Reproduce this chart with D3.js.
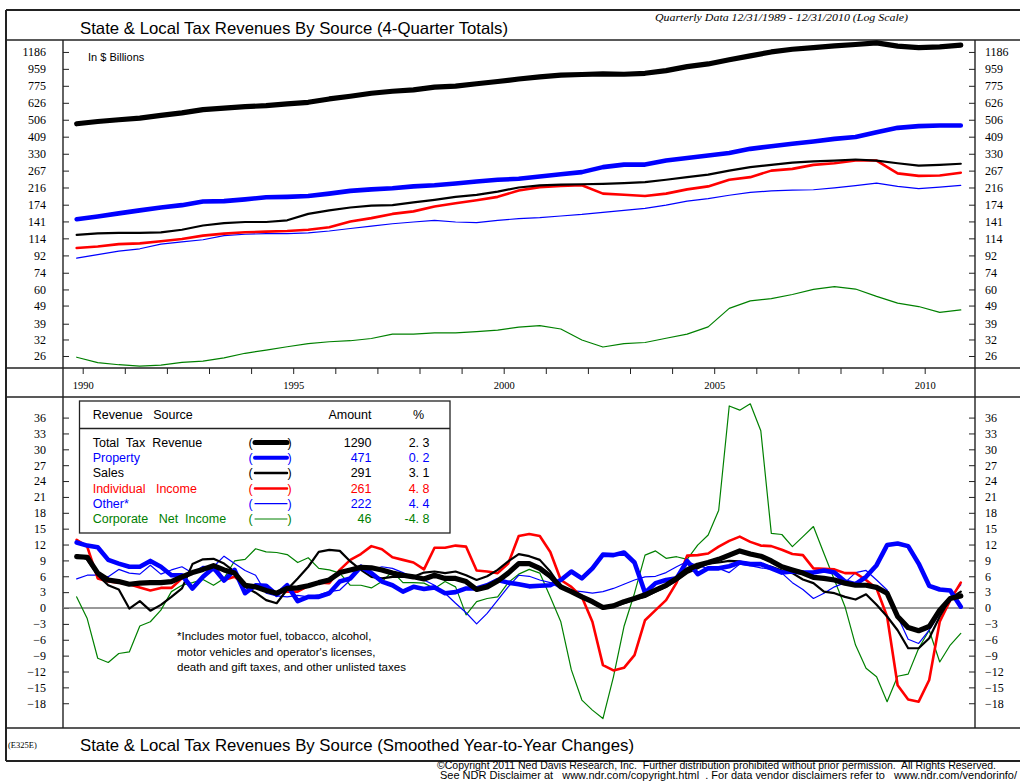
<!DOCTYPE html>
<html>
<head>
<meta charset="utf-8">
<script src="https://cdn.jsdelivr.net/npm/d3@7"></script>
<style>
  body { margin: 0; background: #fff; }
  svg { display: block; }
  text { white-space: pre; }
</style>
</head>
<body>
<div id="chart"></div>
<script>
// ---------- data ----------
// first point is 12/31/1989, plotted a little before the 1990 tick
const firstDate = 1989.857;
const halfYears = d3.range(43).map(k => firstDate + k / 2);
const quarters = d3.range(85).map(i => firstDate + i / 4);

const yearTicks = d3.range(1990, 2011);
const yearLabels = [1990, 1995, 2000, 2005, 2010];
const logTicks = [26, 32, 39, 49, 60, 74, 92, 114, 141, 174, 216, 267, 330, 409, 506, 626, 775, 959, 1186];
const pctTicks = d3.range(-18, 37, 3);

// 4-quarter totals, $ billions (semi-annual readings)
const levelTotal = [481, 495, 506, 516, 534, 552, 575, 586, 596, 604, 617, 630, 657, 680, 706, 724, 737, 762, 772, 795, 818, 844, 867, 886, 893, 900, 896, 907, 938, 986, 1020, 1075, 1128, 1186, 1227, 1253, 1280, 1302, 1330, 1276, 1253, 1264, 1291];
const levelProperty = [145, 150, 156, 162, 168, 173, 181, 182, 186, 191, 192, 194, 200, 207, 211, 214, 219, 222, 227, 233, 238, 241, 248, 255, 262, 279, 288, 288, 303, 313, 323, 333, 351, 363, 374, 385, 398, 407, 433, 457, 467, 471, 471];
const levelSales = [119, 121.5, 122, 122, 123, 127, 134, 138, 140, 140, 143, 155, 162, 168, 172, 173, 179, 185, 192, 197, 205, 216, 222, 224, 225, 226, 228, 231, 238, 246, 254, 267, 279, 287, 295, 300, 303, 307, 303, 293, 284, 287, 291];
const levelIncome = [101, 103, 106, 107, 110, 113, 118, 121, 123, 124, 125, 127, 131, 141, 147, 155, 160, 170, 177, 184, 192, 208, 217, 220, 222, 200, 197, 194, 200, 211, 219, 238, 246, 267, 273, 287, 293, 303, 303, 258, 250, 251, 260];
const levelOther = [89, 93, 97, 100, 106, 109, 112, 118, 120, 121, 121, 122, 125, 129, 133, 137, 140, 143, 140, 139, 143, 146, 148, 151, 154, 158, 162, 166, 173, 182, 188, 196, 203, 207, 209, 210, 215, 221, 228, 219, 213, 217, 222];
const levelCorp = [25.6, 23.9, 23.3, 22.9, 23.2, 24.0, 24.4, 25.4, 26.9, 28.0, 29.2, 30.4, 31.1, 31.5, 32.4, 34.2, 34.2, 34.8, 34.8, 35.3, 36.0, 37.4, 38.1, 36.5, 31.8, 29.1, 30.4, 30.8, 32.5, 34.2, 37.5, 47.3, 52.0, 53.5, 56.3, 60.1, 62.1, 60.3, 55.0, 50.5, 48.4, 45.0, 46.4];

// smoothed year-to-year changes, % (quarterly readings)
const chgTotal = [9.7, 9.6, 6.6, 5.3, 5.0, 4.5, 4.7, 4.8, 4.8, 5.0, 5.9, 6.7, 7.3, 8.0, 7.2, 6.6, 4.3, 4.0, 3.3, 2.8, 3.7, 3.8, 4.2, 4.8, 5.3, 6.7, 7.2, 7.7, 7.6, 7.2, 6.6, 6.2, 5.9, 5.5, 6.2, 5.6, 5.6, 5.0, 3.5, 4.0, 5.1, 6.6, 8.4, 8.4, 7.5, 6.0, 4.0, 3.1, 2.1, 1.2, 0.1, 0.4, 1.2, 1.8, 2.5, 3.4, 4.3, 5.6, 7.2, 8.1, 8.6, 9.2, 10.0, 10.8, 10.2, 9.8, 8.9, 7.8, 7.2, 6.6, 5.8, 5.6, 5.3, 4.7, 4.3, 4.3, 3.9, 2.8, -1.6, -3.7, -4.3, -3.5, -0.4, 1.8, 2.3];
const chgProperty = [12.4, 11.8, 11.5, 9.1, 8.4, 7.8, 7.8, 8.9, 7.8, 6.2, 6.2, 3.7, 5.9, 7.6, 5.2, 7.2, 2.8, 4.3, 4.2, 2.5, 4.3, 1.3, 2.1, 2.1, 2.8, 5.0, 5.6, 7.8, 6.6, 5.0, 4.3, 3.1, 4.0, 3.6, 3.9, 2.8, 3.0, 3.7, 3.7, 4.3, 5.3, 4.8, 4.5, 4.1, 4.2, 4.3, 5.3, 6.9, 5.6, 7.5, 10.1, 10.0, 10.5, 8.6, 2.9, 4.7, 5.3, 5.6, 8.9, 6.4, 7.5, 7.5, 7.9, 8.6, 8.3, 8.3, 7.5, 6.7, 6.9, 6.7, 6.7, 7.1, 6.7, 5.0, 4.5, 5.9, 8.1, 11.9, 12.2, 11.7, 8.4, 4.2, 3.5, 3.3, 0.25];
const chgSales = [10.0, 9.2, 6.2, 4.3, 3.5, -0.1, 1.3, -0.5, 0.6, 2.1, 3.7, 8.3, 9.2, 9.3, 8.4, 6.9, 4.0, 2.9, 1.5, 0.9, 3.5, 5.6, 7.8, 10.6, 11.0, 10.8, 8.8, 7.2, 5.9, 5.6, 5.9, 5.9, 5.9, 6.7, 6.9, 6.6, 6.9, 6.2, 5.3, 6.0, 7.2, 8.8, 10.2, 9.8, 9.1, 6.9, 4.0, 3.1, 2.1, 1.0, -0.1, 0.25, 0.9, 1.6, 2.1, 3.1, 4.0, 5.2, 6.6, 7.5, 8.4, 8.6, 8.9, 8.8, 8.4, 8.3, 7.8, 7.1, 6.6, 5.4, 4.7, 3.1, 2.8, 2.1, 1.6, 2.6, 0.6, -1.6, -4.2, -7.6, -7.6, -5.7, -1.6, 1.8, 3.1];
const chgIncome = [12.9, 11.6, 5.6, 5.0, 4.8, 4.5, 3.9, 3.3, 3.8, 3.8, 5.6, 6.6, 7.2, 8.1, 5.3, 5.9, 4.3, 4.0, 3.2, 2.9, 3.1, 3.1, 4.2, 4.8, 4.7, 7.2, 9.1, 10.2, 11.7, 11.1, 9.6, 9.1, 8.6, 7.3, 11.4, 11.4, 11.8, 11.6, 7.1, 6.9, 6.6, 8.4, 13.6, 14.0, 13.6, 10.6, 5.3, 4.0, 2.1, -2.6, -10.8, -11.8, -11.3, -8.9, -2.3, -0.4, 1.5, 4.8, 9.9, 10.0, 10.3, 11.6, 12.7, 13.5, 12.5, 11.8, 11.7, 11.0, 10.2, 10.0, 7.5, 7.4, 7.3, 6.6, 6.6, 5.3, 3.7, -1.6, -14.6, -17.3, -17.7, -13.6, -2.6, 1.5, 4.8];
const chgOther = [5.5, 6.2, 6.2, 5.9, 7.3, 6.6, 6.4, 8.1, 6.4, 7.2, 7.8, 6.6, 7.9, 7.8, 9.8, 8.4, 7.1, 6.2, 2.8, 2.3, 2.1, 2.4, 2.1, 2.5, 3.1, 3.4, 5.3, 8.1, 7.2, 7.8, 7.5, 6.7, 5.8, 5.3, 4.3, 2.8, 0.9, -0.9, -3.0, -1.0, 1.5, 4.0, 6.2, 6.0, 5.3, 4.8, 3.7, 3.3, 3.1, 2.8, 3.1, 3.7, 4.5, 5.3, 5.9, 6.0, 6.7, 7.8, 8.8, 8.0, 7.5, 7.5, 6.7, 8.3, 8.0, 7.6, 7.3, 6.6, 4.8, 3.5, 1.8, 2.8, 4.0, 4.8, 6.7, 7.1, 5.3, 3.4, -1.6, -5.9, -6.7, -4.2, -1.0, 2.1, 4.4];
const chgCorp = [2.1, -2.0, -9.5, -10.3, -8.6, -8.3, -3.4, -2.6, -0.4, 3.1, 4.3, 4.8, 5.4, 4.3, 5.6, 8.9, 9.2, 11.2, 10.6, 10.5, 10.1, 8.6, 9.5, 7.5, 7.2, 6.6, 4.3, 4.3, 3.8, 5.0, 6.9, 4.8, 4.8, 4.7, 3.7, 5.0, 4.0, -1.3, 1.2, 1.8, 2.1, 4.8, 6.4, 7.3, 6.6, 2.1, -2.6, -11.7, -17.4, -19.3, -20.9, -13.0, -3.5, 2.8, 10.0, 10.8, 9.4, 9.7, 9.2, 11.9, 13.8, 18.5, 38.2, 37.4, 38.6, 33.5, 14.1, 13.9, 11.6, 13.5, 15.4, 10.3, 5.3, 0.25, -7.0, -11.4, -13.0, -17.7, -12.9, -12.5, -7.6, -4.2, -10.2, -7.0, -4.8];

// legend table
const sourceNames = ["Total  Tax  Revenue", "Property", "Sales", "Individual   Income", "Other*", "Corporate   Net  Income"];
const latestAmount = ["1290", "471", "291", "261", "222", "46"];
const latestChange = ["2. 3", "0. 2", "3. 1", "4. 8", "4. 4", "-4. 8"];

const footnote = [
  "*Includes motor fuel, tobacco, alcohol,",
  "motor vehicles and operator's licenses,",
  "death and gift taxes, and other unlisted taxes"
];

// ---------- styling ----------
const blue = "#0000ff", red = "#ff0000", green = "#008000";
const series = [
  { top: levelCorp,     bot: chgCorp,     color: green,  width: 1.2, legendWidth: 1 },
  { top: levelOther,    bot: chgOther,    color: blue,   width: 1.2, legendWidth: 1.2 },
  { top: levelIncome,   bot: chgIncome,   color: red,    width: 2.6, legendWidth: 2.5 },
  { top: levelSales,    bot: chgSales,    color: "#000", width: 2.2, legendWidth: 2.5 },
  { top: levelProperty, bot: chgProperty, color: blue,   width: 4.6, legendWidth: 4 },
  { top: levelTotal,    bot: chgTotal,    color: "#000", width: 5.2, legendWidth: 5 }
];
const legendOrder = [5, 4, 3, 2, 1, 0];
const textColors = ["#000", blue, "#000", red, blue, green];

const sans = "'Liberation Sans', Arial, Helvetica, sans-serif";
const serif = "'Liberation Serif', 'Times New Roman', serif";
const narrow = "'Liberation Sans Narrow', 'Arial Narrow', 'Liberation Sans', sans-serif";

const W = 1020, H = 782;
const plotL = 63, plotR = 975;
const topY0 = 40, topY1 = 368, botY0 = 397, botY1 = 728;

const svg = d3.select("#chart").append("svg")
    .attr("width", W)
    .attr("height", H);

svg.append("rect").attr("width", W).attr("height", H).attr("fill", "#fff");

// scales
const x = d3.scaleLinear().domain([1990, 2010]).range([82.7, 924.7]);
const yTop = d3.scaleLog().domain([22.36, 1378]).range([topY1, topY0]);
const yBot = d3.scaleLinear().domain([-22.68, 39.89]).range([botY1, botY0]);

// clip paths
const defs = svg.append("defs");
defs.append("clipPath").attr("id", "clipTop").append("rect")
    .attr("x", plotL).attr("y", topY0).attr("width", plotR - plotL).attr("height", topY1 - topY0);
defs.append("clipPath").attr("id", "clipBot").append("rect")
    .attr("x", plotL).attr("y", botY0).attr("width", plotR - plotL).attr("height", botY1 - botY0);

// ---------- frame ----------
const frame = svg.append("g").attr("stroke", "#222").attr("fill", "none");
[[6, 10, W, 10, 2], [6, 40, W, 40, 1.6], [6, 368, W, 368, 1.6], [6, 397, W, 397, 1.6],
 [6, 728, W, 728, 1.6], [6, 761, W, 761, 2], [6, 10, 6, 761, 2],
 [plotL, 40, plotL, 728, 1.4], [plotR, 40, plotR, 728, 1.4]].forEach(s => {
    frame.append("line")
        .attr("x1", s[0]).attr("y1", s[1]).attr("x2", s[2]).attr("y2", s[3])
        .attr("stroke-width", s[4]);
});

// ---------- titles ----------
svg.append("text")
    .attr("x", 80).attr("y", 34)
    .attr("font-family", sans).attr("font-size", 16.5)
    .attr("textLength", 428).attr("lengthAdjust", "spacingAndGlyphs")
    .text("State & Local Tax Revenues By Source (4-Quarter Totals)");

svg.append("text")
    .attr("x", 655).attr("y", 21)
    .attr("font-family", serif).attr("font-size", 11).attr("font-style", "italic")
    .attr("textLength", 253).attr("lengthAdjust", "spacingAndGlyphs")
    .text("Quarterly Data 12/31/1989 - 12/31/2010 (Log Scale)");

svg.append("text")
    .attr("x", 88).attr("y", 61)
    .attr("font-family", sans).attr("font-size", 11)
    .text("In $ Billions");

svg.append("text")
    .attr("x", 8).attr("y", 748)
    .attr("font-family", serif).attr("font-size", 8.5)
    .text("(E325E)");

svg.append("text")
    .attr("x", 80).attr("y", 751)
    .attr("font-family", sans).attr("font-size", 16.5)
    .attr("textLength", 554).attr("lengthAdjust", "spacingAndGlyphs")
    .text("State & Local Tax Revenues By Source (Smoothed Year-to-Year Changes)");

svg.append("text")
    .attr("x", 437).attr("y", 769)
    .attr("font-family", narrow).attr("font-size", 10.5)
    .attr("textLength", 559).attr("lengthAdjust", "spacingAndGlyphs")
    .text("\u00A9Copyright 2011 Ned Davis Research, Inc.  Further distribution prohibited without prior permission.  All Rights Reserved.");

svg.append("text")
    .attr("x", 440).attr("y", 779)
    .attr("font-family", narrow).attr("font-size", 10.5)
    .attr("textLength", 577).attr("lengthAdjust", "spacingAndGlyphs")
    .text("See NDR Disclaimer at   www.ndr.com/copyright.html  . For data vendor disclaimers refer to   www.ndr.com/vendorinfo/");

// ---------- axes ----------
function styleAxis(g, size) {
    g.select(".domain").remove();
    g.selectAll(".tick line").attr("stroke", "#222").attr("stroke-width", 1);
    g.selectAll(".tick text")
        .attr("fill", "#000")
        .attr("font-family", serif)
        .attr("font-size", size);
}

svg.append("g")
    .attr("transform", `translate(${plotL},0)`)
    .call(d3.axisLeft(yTop).tickValues(logTicks).tickFormat(d3.format("d")).tickSize(-6).tickPadding(17))
    .call(g => styleAxis(g, 12));

svg.append("g")
    .attr("transform", `translate(${plotR},0)`)
    .call(d3.axisRight(yTop).tickValues(logTicks).tickFormat(d3.format("d")).tickSize(-6).tickPadding(10))
    .call(g => styleAxis(g, 12));

svg.append("g")
    .attr("transform", `translate(${plotL},0)`)
    .call(d3.axisLeft(yBot).tickValues(pctTicks).tickFormat(d3.format("d")).tickSize(-6).tickPadding(17))
    .call(g => styleAxis(g, 12));

svg.append("g")
    .attr("transform", `translate(${plotR},0)`)
    .call(d3.axisRight(yBot).tickValues(pctTicks).tickFormat(d3.format("d")).tickSize(-6).tickPadding(10))
    .call(g => styleAxis(g, 12));

svg.append("g")
    .attr("transform", `translate(0,${topY1})`)
    .call(d3.axisBottom(x).tickValues(yearTicks)
        .tickFormat(d => yearLabels.includes(d) ? d : "")
        .tickSize(6).tickPadding(8))
    .call(g => styleAxis(g, 10.5));

// zero line
svg.append("line")
    .attr("x1", plotL).attr("x2", plotR)
    .attr("y1", yBot(0)).attr("y2", yBot(0))
    .attr("stroke", "#777").attr("stroke-width", 1.5);

// ---------- lines ----------
const lineTop = d3.line()
    .x((d, i) => x(halfYears[i]))
    .y(d => yTop(d));
const lineBot = d3.line()
    .x((d, i) => x(quarters[i]))
    .y(d => yBot(d));

const gTop = svg.append("g").attr("clip-path", "url(#clipTop)");
const gBot = svg.append("g").attr("clip-path", "url(#clipBot)");

series.forEach(s => {
    gTop.append("path")
        .datum(s.top)
        .attr("fill", "none")
        .attr("stroke", s.color)
        .attr("stroke-width", s.width)
        .attr("stroke-linejoin", "round")
        .attr("stroke-linecap", "round")
        .attr("d", lineTop);
    gBot.append("path")
        .datum(s.bot)
        .attr("fill", "none")
        .attr("stroke", s.color)
        .attr("stroke-width", s.width)
        .attr("stroke-linejoin", "round")
        .attr("stroke-linecap", "round")
        .attr("d", lineBot);
});

// ---------- legend table ----------
const lg = svg.append("g").attr("font-family", sans).attr("font-size", 12.5);
lg.append("rect")
    .attr("x", 79.5).attr("y", 401)
    .attr("width", 370.5).attr("height", 132)
    .attr("fill", "#fff").attr("stroke", "#222").attr("stroke-width", 1.3);
lg.append("line")
    .attr("x1", 79.5).attr("x2", 450).attr("y1", 428.5).attr("y2", 428.5)
    .attr("stroke", "#222").attr("stroke-width", 1.3);

lg.append("text").attr("x", 92.7).attr("y", 419).text("Revenue   Source");
lg.append("text").attr("x", 371.5).attr("y", 419).attr("text-anchor", "end").text("Amount");
lg.append("text").attr("x", 418.5).attr("y", 419).attr("text-anchor", "middle").text("%");

sourceNames.forEach((name, r) => {
    const yy = 446.8 + r * 15.3;
    const s = series[legendOrder[r]];
    const c = textColors[r];
    lg.append("text").attr("x", 92.7).attr("y", yy).attr("fill", c).text(name);
    lg.append("text").attr("x", 248.5).attr("y", yy).attr("fill", c).text("(");
    lg.append("text").attr("x", 287.5).attr("y", yy).attr("fill", c).text(")");
    lg.append("line")
        .attr("x1", 255).attr("x2", 287)
        .attr("y1", yy - 4.3).attr("y2", yy - 4.3)
        .attr("stroke", s.color)
        .attr("stroke-width", s.legendWidth)
        .attr("stroke-linecap", "round");
    lg.append("text").attr("x", 371.5).attr("y", yy).attr("text-anchor", "end").attr("fill", c).text(latestAmount[r]);
    lg.append("text").attr("x", 429.5).attr("y", yy).attr("text-anchor", "end").attr("fill", c).text(latestChange[r]);
});

// footnote
footnote.forEach((t, i) => {
    svg.append("text")
        .attr("x", 177).attr("y", 640 + i * 15.5)
        .attr("font-family", sans).attr("font-size", 11.5)
        .text(t);
});
</script>
</body>
</html>
